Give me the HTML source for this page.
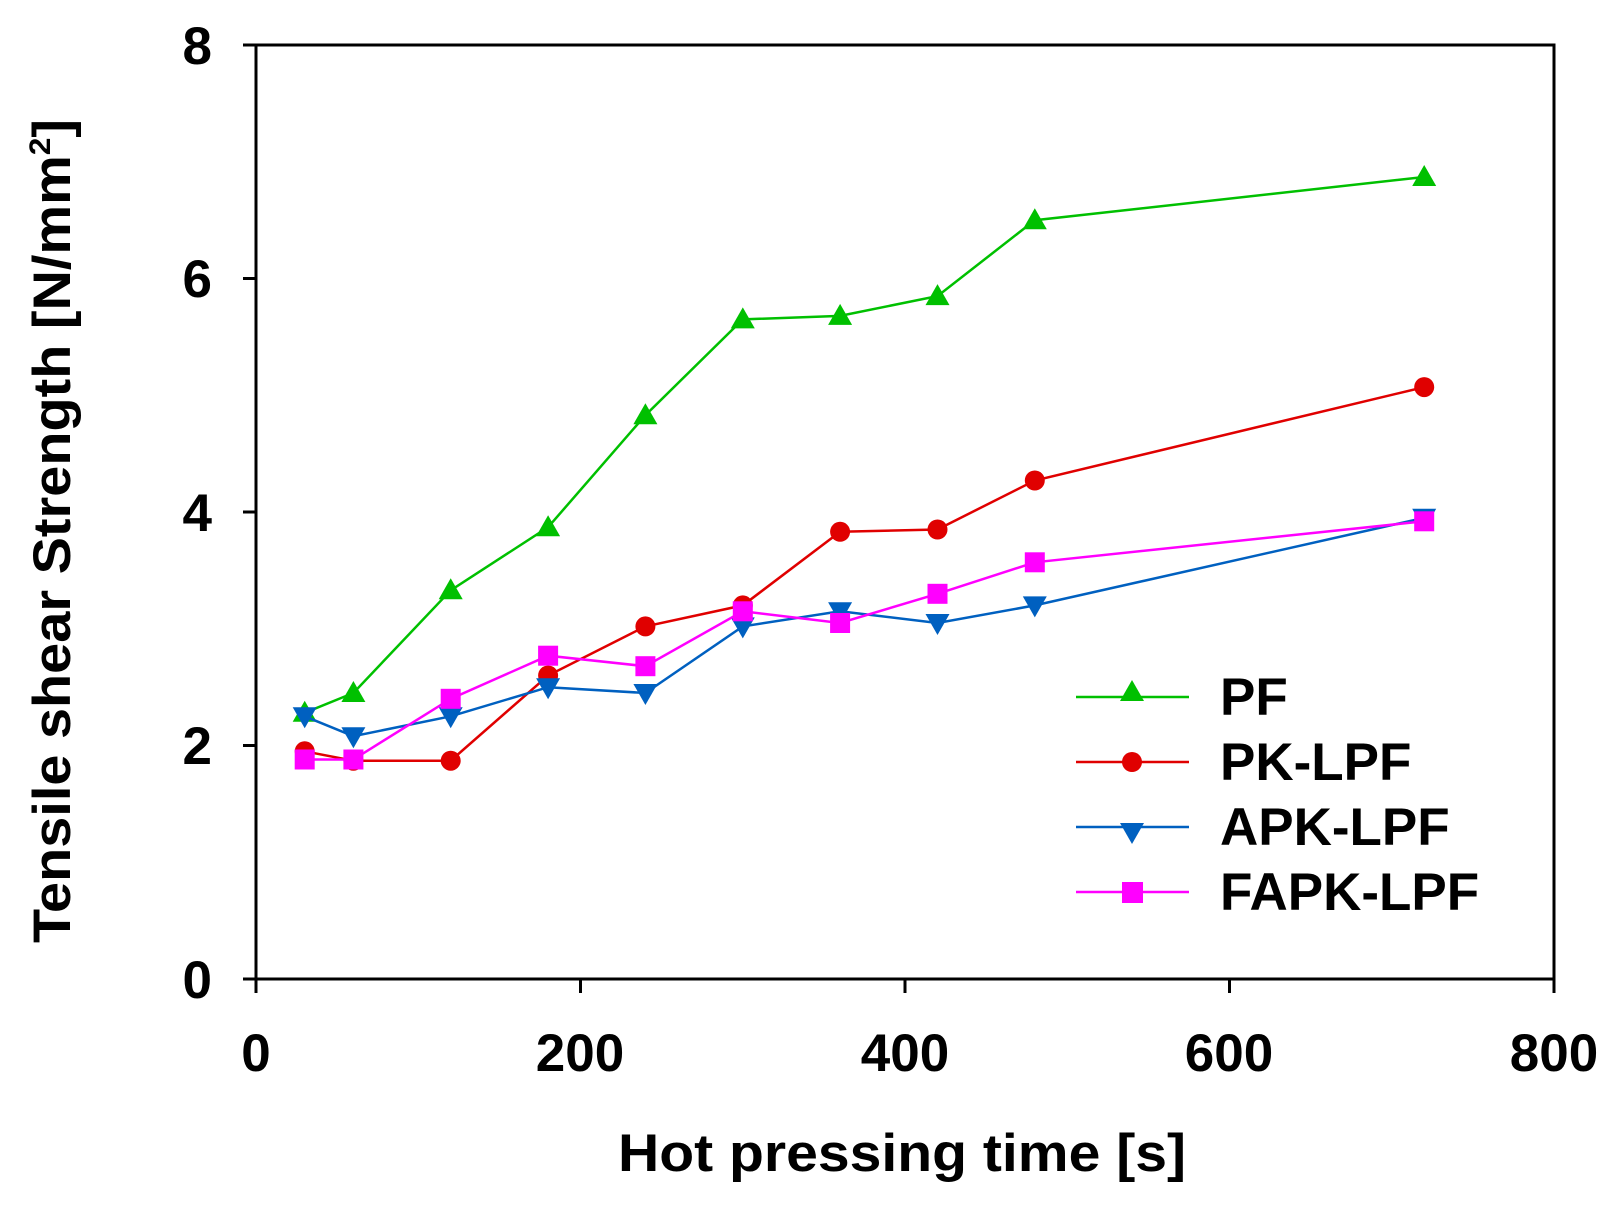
<!DOCTYPE html>
<html><head><style>html,body{margin:0;padding:0;background:#fff}</style></head>
<body>
<svg width="1624" height="1205" xmlns="http://www.w3.org/2000/svg" font-family="Liberation Sans, Arial, sans-serif" font-weight="bold">
<rect width="1624" height="1205" fill="#fff"/>
<g stroke="#000" stroke-width="3" fill="none">
<rect x="256" y="45" width="1298" height="934"/>
<line x1="243" y1="45" x2="256" y2="45"/><line x1="243" y1="278.5" x2="256" y2="278.5"/><line x1="243" y1="512" x2="256" y2="512"/><line x1="243" y1="745.5" x2="256" y2="745.5"/><line x1="243" y1="979" x2="256" y2="979"/>
<line x1="256" y1="979" x2="256" y2="993"/><line x1="580.5" y1="979" x2="580.5" y2="993"/><line x1="905" y1="979" x2="905" y2="993"/><line x1="1229.5" y1="979" x2="1229.5" y2="993"/><line x1="1554" y1="979" x2="1554" y2="993"/>
</g>
<g font-size="53" text-anchor="end">
<text x="212" y="64">8</text><text x="212" y="297">6</text><text x="212" y="531">4</text><text x="212" y="764">2</text><text x="212" y="998">0</text>
</g>
<g font-size="53" text-anchor="middle">
<text x="256" y="1071">0</text><text x="580" y="1071">200</text><text x="905" y="1071">400</text><text x="1229" y="1071">600</text><text x="1554" y="1071">800</text>
</g>
<text x="618" y="1171" font-size="53" textLength="568" lengthAdjust="spacingAndGlyphs">Hot pressing time [s]</text>
<text transform="translate(70,943) rotate(-90)" font-size="53" textLength="824" lengthAdjust="spacingAndGlyphs">Tensile shear Strength [N/mm<tspan font-size="30" dy="-20">2</tspan><tspan dy="20">]</tspan></text>
<defs>
<path id="tri" d="M0,-12 L12,9 L-12,9Z"/>
<path id="itri" d="M-12,-9 L12,-9 L0,12Z"/>
</defs>
<polyline fill="none" stroke="#00c000" stroke-width="2.5" points="304.7,712.8 353.4,693 450.7,590.3 548.1,527.2 645.4,415.2 742.8,319.4 840.1,315.9 937.5,296.1 1034.8,220.2 1424.2,177"/>
<g fill="#00c000"><use href="#tri" x="304.7" y="712.8"/><use href="#tri" x="353.4" y="693"/><use href="#tri" x="450.7" y="590.3"/><use href="#tri" x="548.1" y="527.2"/><use href="#tri" x="645.4" y="415.2"/><use href="#tri" x="742.8" y="319.4"/><use href="#tri" x="840.1" y="315.9"/><use href="#tri" x="937.5" y="296.1"/><use href="#tri" x="1034.8" y="220.2"/><use href="#tri" x="1424.2" y="177"/></g>
<polyline fill="none" stroke="#e00000" stroke-width="2.5" points="304.7,751.3 353.4,760.7 450.7,760.7 548.1,675.5 645.4,626.4 742.8,605.4 840.1,531.8 937.5,529.5 1034.8,480.5 1424.2,387.1"/>
<g fill="#e00000"><circle cx="304.7" cy="751.3" r="10"/><circle cx="353.4" cy="760.7" r="10"/><circle cx="450.7" cy="760.7" r="10"/><circle cx="548.1" cy="675.5" r="10"/><circle cx="645.4" cy="626.4" r="10"/><circle cx="742.8" cy="605.4" r="10"/><circle cx="840.1" cy="531.8" r="10"/><circle cx="937.5" cy="529.5" r="10"/><circle cx="1034.8" cy="480.5" r="10"/><circle cx="1424.2" cy="387.1" r="10"/></g>
<polyline fill="none" stroke="#0060c0" stroke-width="2.5" points="304.7,716.3 353.4,736.2 450.7,716.3 548.1,687.2 645.4,693 742.8,626.4 840.1,611.3 937.5,623 1034.8,605.4 1424.2,517.8"/>
<g fill="#0060c0"><use href="#itri" x="304.7" y="716.3"/><use href="#itri" x="353.4" y="736.2"/><use href="#itri" x="450.7" y="716.3"/><use href="#itri" x="548.1" y="687.2"/><use href="#itri" x="645.4" y="693"/><use href="#itri" x="742.8" y="626.4"/><use href="#itri" x="840.1" y="611.3"/><use href="#itri" x="937.5" y="623"/><use href="#itri" x="1034.8" y="605.4"/><use href="#itri" x="1424.2" y="517.8"/></g>
<polyline fill="none" stroke="#ff00ff" stroke-width="2.5" points="304.7,759.5 353.4,759.5 450.7,698.8 548.1,655.7 645.4,666.2 742.8,611.3 840.1,623 937.5,593.8 1034.8,562.3 1424.2,521.3"/>
<g fill="#ff00ff"><rect x="294.7" y="749.5" width="20" height="20"/><rect x="343.4" y="749.5" width="20" height="20"/><rect x="440.7" y="688.8" width="20" height="20"/><rect x="538.1" y="645.7" width="20" height="20"/><rect x="635.4" y="656.2" width="20" height="20"/><rect x="732.8" y="601.3" width="20" height="20"/><rect x="830.1" y="613" width="20" height="20"/><rect x="927.5" y="583.8" width="20" height="20"/><rect x="1024.8" y="552.3" width="20" height="20"/><rect x="1414.2" y="511.3" width="20" height="20"/></g>
<g stroke-width="2.5">
<line x1="1076" y1="697" x2="1189" y2="697" stroke="#00c000"/>
<line x1="1076" y1="762" x2="1189" y2="762" stroke="#e00000"/>
<line x1="1076" y1="827" x2="1189" y2="827" stroke="#0060c0"/>
<line x1="1076" y1="892" x2="1189" y2="892" stroke="#ff00ff"/>
</g>
<use href="#tri" x="1132" y="692" fill="#00c000"/>
<circle cx="1132" cy="762" r="10" fill="#e00000"/>
<use href="#itri" x="1132" y="832" fill="#0060c0"/>
<rect x="1122" y="882" width="21" height="21" fill="#ff00ff"/>
<g font-size="53">
<text x="1220" y="715">PF</text><text x="1220" y="780">PK-LPF</text><text x="1220" y="845">APK-LPF</text><text x="1220" y="910">FAPK-LPF</text>
</g>
</svg>
</body></html>
